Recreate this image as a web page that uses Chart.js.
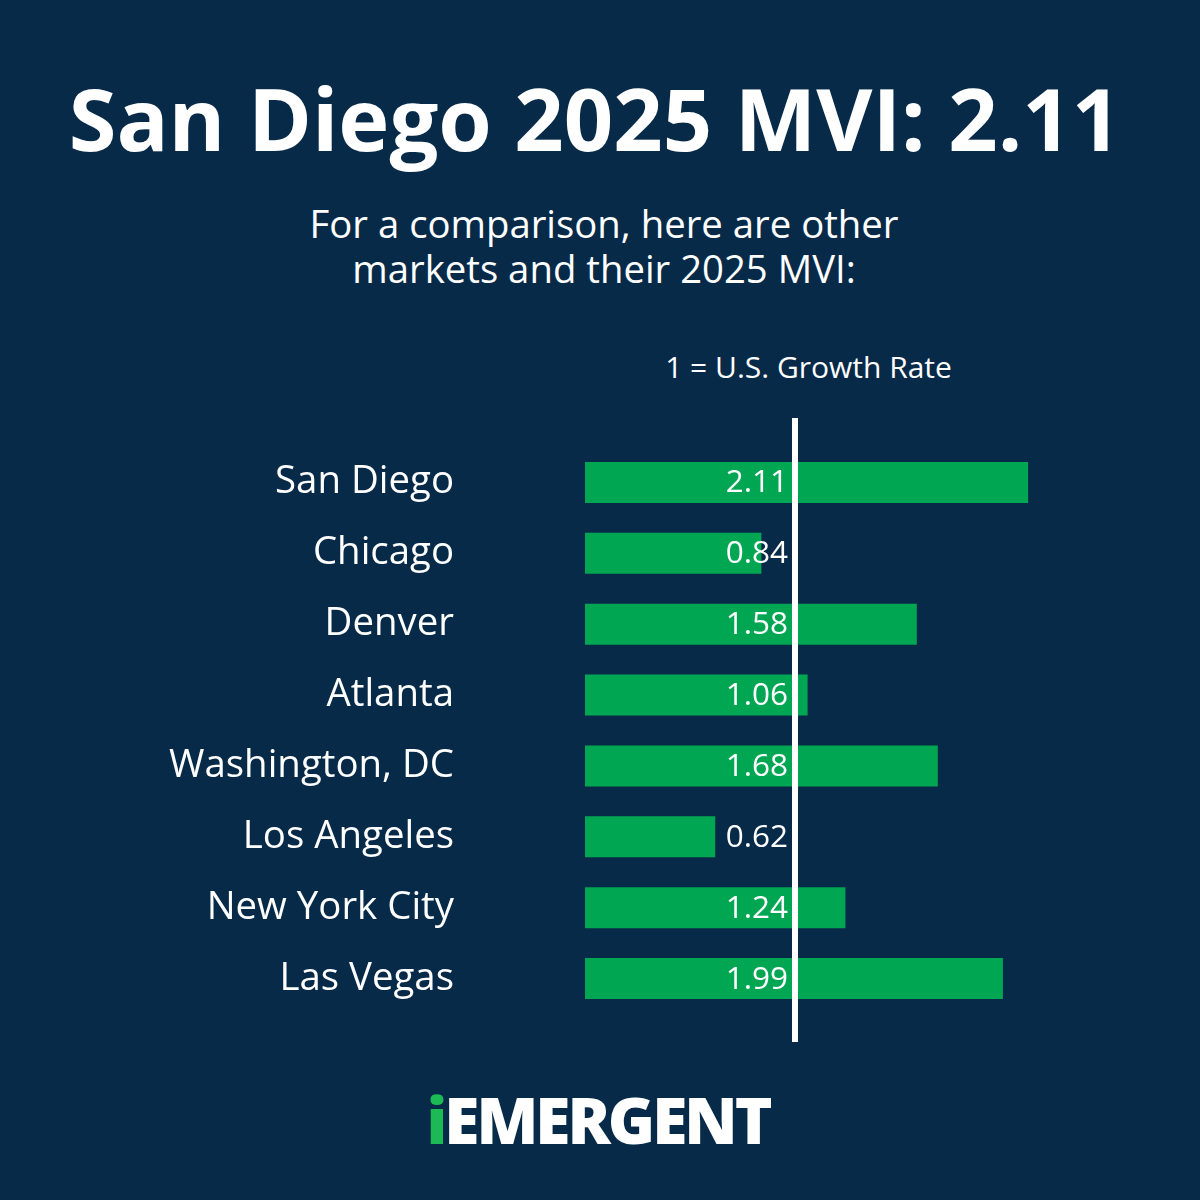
<!DOCTYPE html>
<html>
<head>
<meta charset="utf-8">
<script src="https://cdn.jsdelivr.net/npm/chart.js@4/dist/chart.umd.min.js"></script>
<style>
    html, body {
        margin: 0;
        padding: 0;
        background: #072a49;
    }
    #wrap {
        position: relative;
        width: 1200px;
        height: 1200px;
        background: #072a49;
        font-family: "Open Sans", sans-serif;
        color: #ffffff;
        overflow: hidden;
    }
    #title {
        position: absolute;
        left: 0;
        top: 63px;
        width: 1190px;
        text-align: center;
        font-size: 86.5px;
        font-weight: 700;
        line-height: 110px;
        white-space: nowrap;
    }
    #subtitle {
        position: absolute;
        left: 0;
        top: 201px;
        width: 1208px;
        text-align: center;
        font-size: 38.3px;
        line-height: 45px;
    }
    #note {
        position: absolute;
        left: 0;
        top: 349px;
        width: 1617px;
        text-align: center;
        font-size: 30px;
        line-height: 36px;
    }
    #logo {
        position: absolute;
        left: 0;
        top: 1082px;
        width: 1196px;
        text-align: center;
        font-size: 64px;
        font-weight: 800;
        line-height: 76px;
        letter-spacing: -3px;
    }
    #logo .i {
        color: #1db954;
    }
    canvas {
        position: absolute;
        left: 0;
        top: 0;
    }
</style>
</head>
<body>
<div id="wrap">
    <div id="title">San Diego 2025 MVI: 2.11</div>
    <div id="subtitle">For a comparison, here are other<br>markets and their 2025 MVI:</div>
    <div id="note">1 = U.S. Growth Rate</div>
    <canvas id="mviChart" width="1200" height="1200"></canvas>
    <div id="logo"><span class="i">i</span>EMERGENT</div>
</div>

<script>
// Markets and their 2025 MVI (1 = U.S. growth rate)
const markets = ['San Diego', 'Chicago', 'Denver', 'Atlanta', 'Washington, DC', 'Los Angeles', 'New York City', 'Las Vegas'];
const mviValues = [2.11, 0.84, 1.58, 1.06, 1.68, 0.62, 1.24, 1.99];
const usRate = 1;

// Draws the white "1 = U.S." reference line and the value labels
const referencePlugin = {
    id: 'referenceLine',
    afterDatasetsDraw(chart) {
        const ctx = chart.ctx;
        const xScale = chart.scales.x;
        const area = chart.chartArea;
        const lineX = xScale.getPixelForValue(usRate);

        ctx.save();
        ctx.fillStyle = '#ffffff';
        ctx.fillRect(lineX - 3, area.top - 29, 6, area.bottom - area.top + 57);

        ctx.font = '31.5px "Open Sans"';
        ctx.textAlign = 'right';
        ctx.textBaseline = 'middle';
        const bars = chart.getDatasetMeta(0).data;
        bars.forEach((bar, i) => {
            ctx.fillText(mviValues[i].toFixed(2), lineX - 7, bar.y + 1);
        });
        ctx.restore();
    }
};

function plotMviChart() {
    const ctx = document.getElementById('mviChart').getContext('2d');
    const mviChart = new Chart(ctx, {
        type: 'bar',
        data: {
            labels: markets,
            datasets: [{
                label: '2025 MVI',
                data: mviValues,
                backgroundColor: '#00a651',
                borderWidth: 0,
                barPercentage: 0.58,
                categoryPercentage: 1
            }]
        },
        options: {
            indexAxis: 'y',
            responsive: false,
            animation: false,
            layout: {
                padding: { left: 0, right: 90, top: 447, bottom: 186 }
            },
            plugins: {
                legend: { display: false },
                tooltip: { enabled: false }
            },
            scales: {
                x: {
                    display: false,
                    min: 0,
                    max: 2.5
                },
                y: {
                    afterFit(scale) {
                        scale.width = 585;
                    },
                    border: { display: false },
                    grid: { display: false, drawTicks: false },
                    ticks: {
                        color: '#ffffff',
                        padding: 131,
                        font: { family: '"Open Sans"', size: 38.4 }
                    }
                }
            }
        },
        plugins: [referencePlugin]
    });
}

window.onload = plotMviChart;
</script>
</body>
</html>
